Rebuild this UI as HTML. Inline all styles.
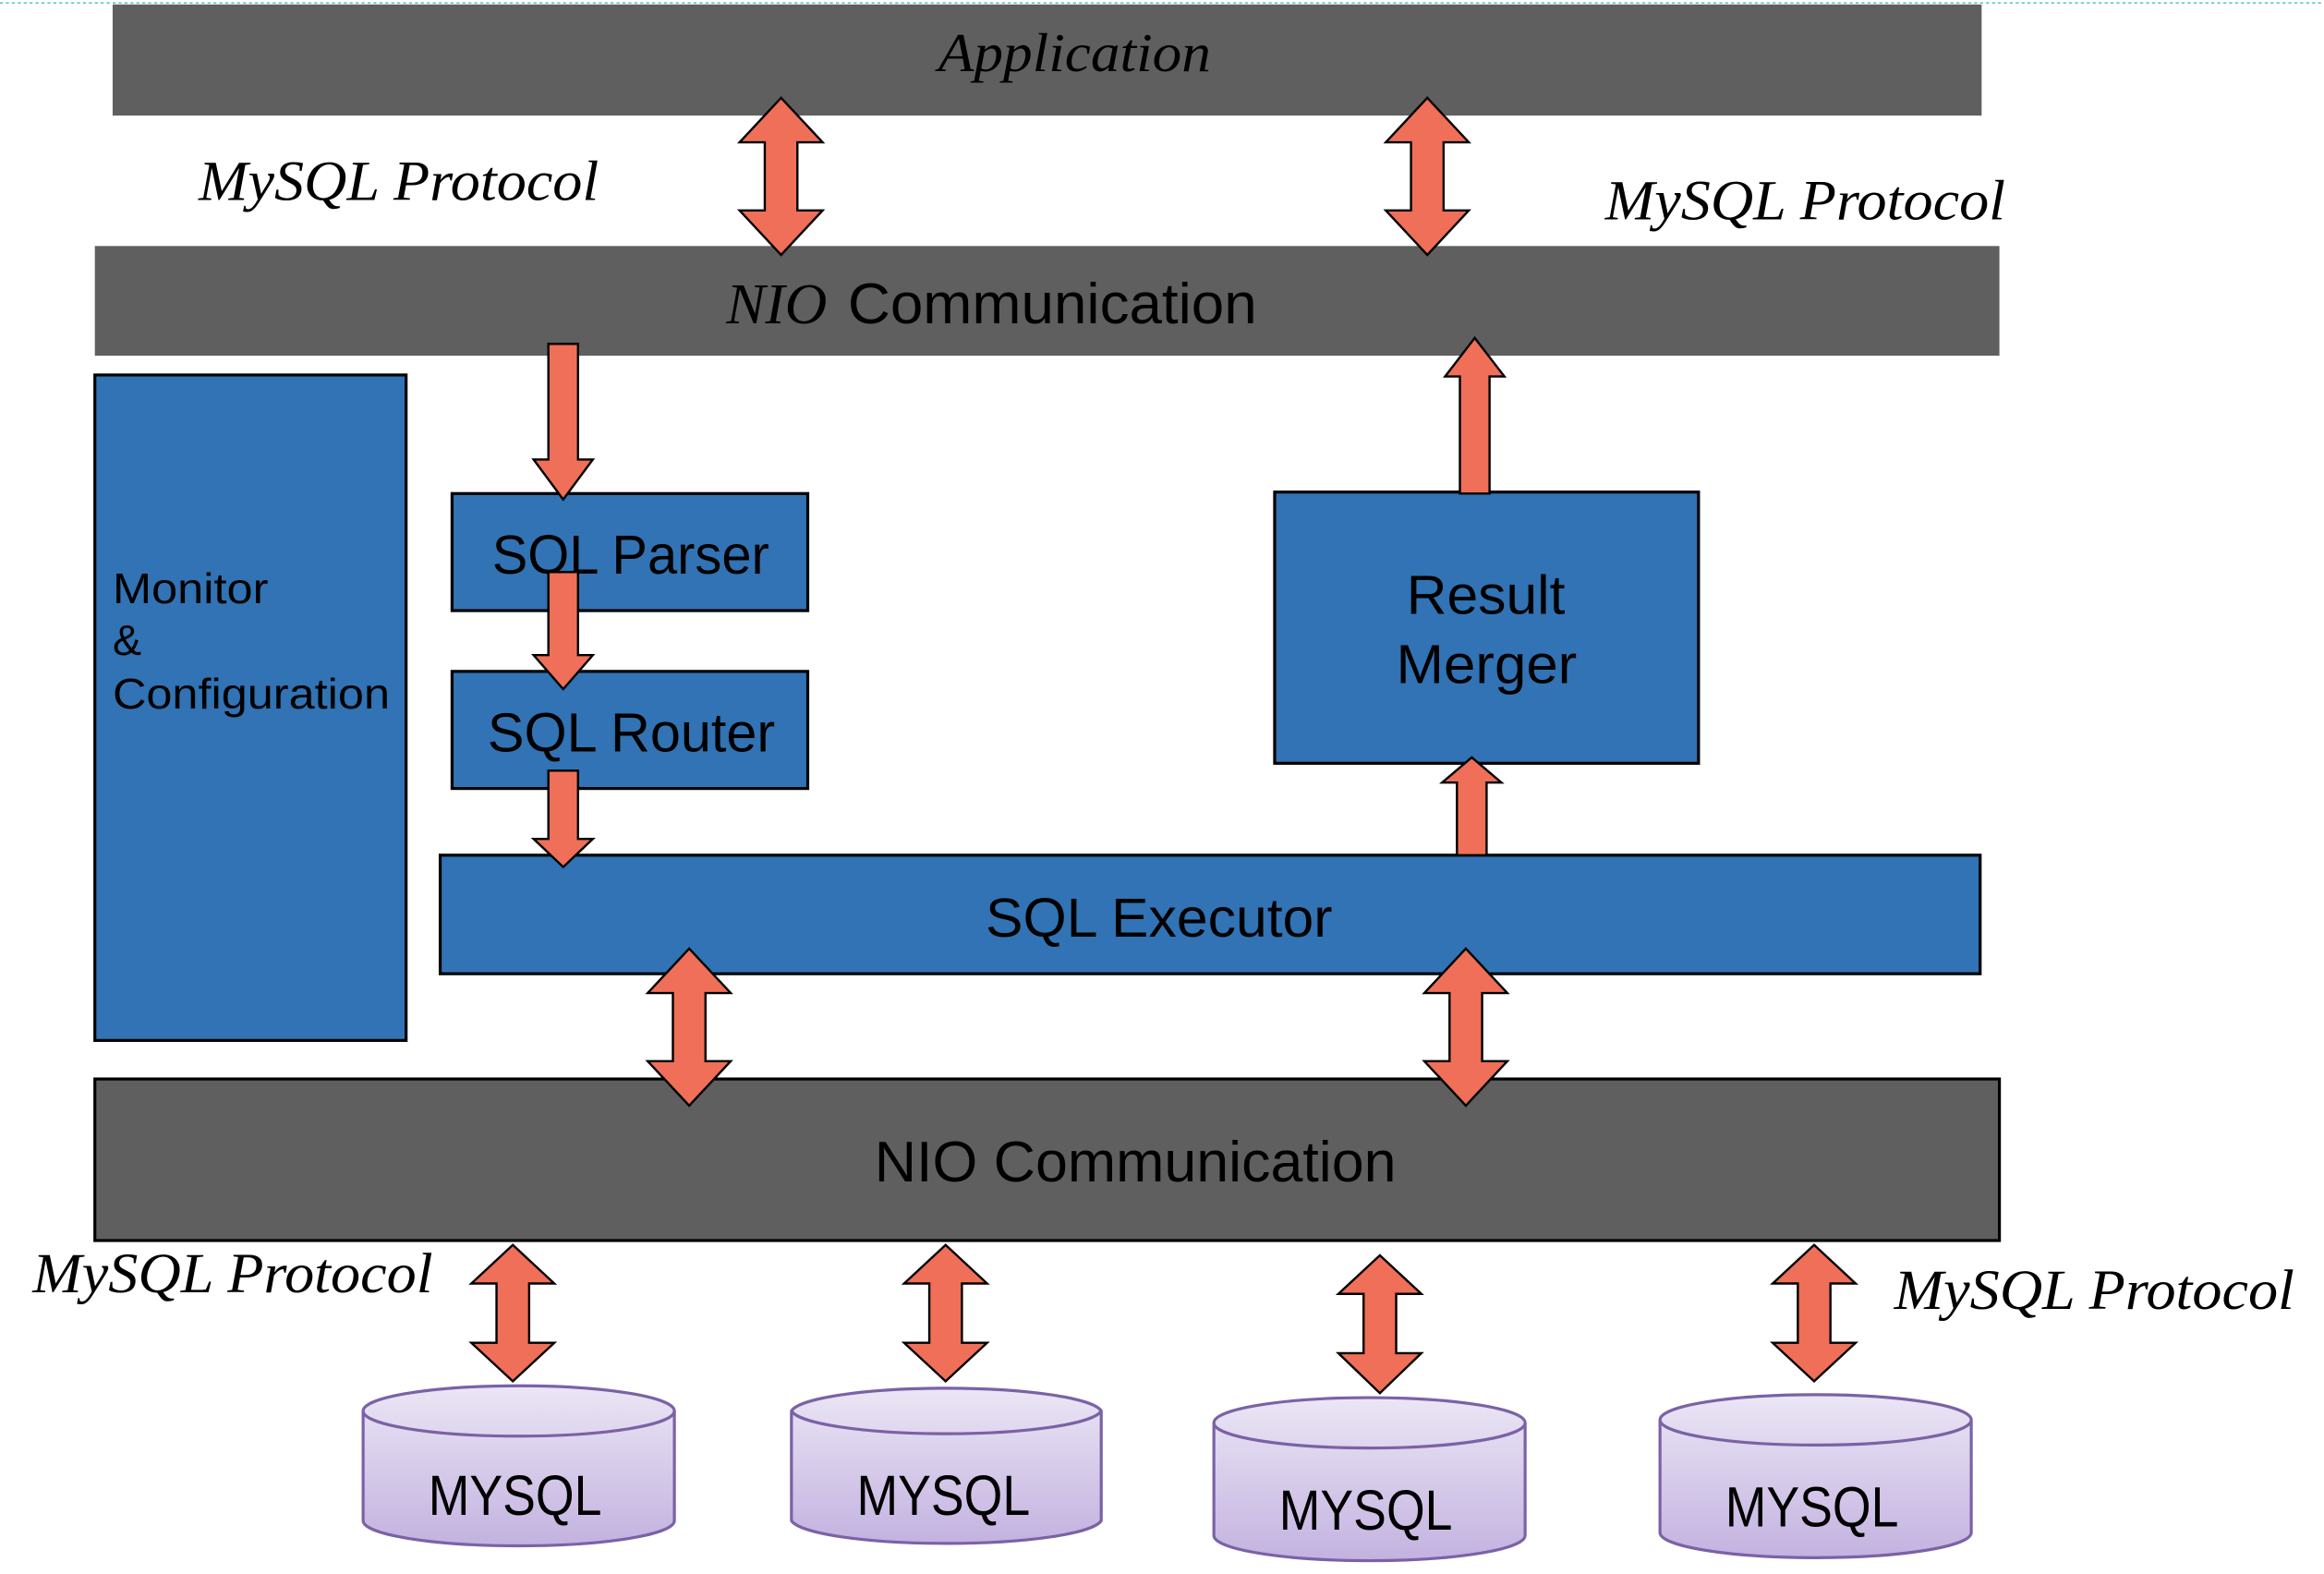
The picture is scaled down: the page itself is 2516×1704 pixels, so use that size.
<!DOCTYPE html>
<html><head><meta charset="utf-8"><style>
html,body{margin:0;padding:0;background:#fff;}
svg{display:block;}
.ser{font-family:"Liberation Serif",serif;font-style:italic;}
.san{font-family:"Liberation Sans",sans-serif;}
</style></head><body>
<svg width="2516" height="1704" viewBox="0 0 1568 1062" preserveAspectRatio="none" xmlns="http://www.w3.org/2000/svg">
<defs>
<linearGradient id="cy" x1="0" y1="0" x2="0" y2="1">
<stop offset="0" stop-color="#ebe6f5"/><stop offset="1" stop-color="#c3b2e0"/>
</linearGradient>
</defs>
<line x1="0" y1="2" x2="1568" y2="2" stroke="#5cc6c6" stroke-width="1" stroke-dasharray="2,2"/>
<rect x="76" y="3" width="1261" height="75" fill="#5f5f5f"/>
<text x="633" y="48" class="ser" font-size="37" textLength="184" lengthAdjust="spacingAndGlyphs">Application</text>
<text x="134" y="135" class="ser" font-size="38" textLength="270" lengthAdjust="spacingAndGlyphs">MySQL Protocol</text>
<text x="1083" y="148" class="ser" font-size="38" textLength="270" lengthAdjust="spacingAndGlyphs">MySQL Protocol</text>
<rect x="64" y="166" width="1285" height="74" fill="#5f5f5f"/>
<text x="490" y="218" class="ser" font-size="39" textLength="68" lengthAdjust="spacingAndGlyphs">NIO</text>
<text x="572" y="218" class="san" font-size="39" textLength="276" lengthAdjust="spacingAndGlyphs">Communication</text>
<g fill="#3173b4" stroke="#000" stroke-width="2">
<rect x="64" y="253" width="210" height="449"/>
<rect x="305" y="333" width="240" height="79"/>
<rect x="305" y="453" width="240" height="79"/>
<rect x="860" y="332" width="286" height="183"/>
<rect x="297" y="577" width="1039" height="80"/>
</g>
<g class="san" font-size="29">
<text x="76" y="407" textLength="105" lengthAdjust="spacingAndGlyphs">Monitor</text><text x="76" y="442">&amp;</text><text x="76" y="478" textLength="187" lengthAdjust="spacingAndGlyphs">Configuration</text>
</g>
<g class="san" font-size="37">
<text x="332" y="387" textLength="187" lengthAdjust="spacingAndGlyphs">SQL Parser</text>
<text x="329" y="507" textLength="194" lengthAdjust="spacingAndGlyphs">SQL Router</text>
<text x="949" y="414" textLength="107" lengthAdjust="spacingAndGlyphs">Result</text>
<text x="942" y="461" textLength="122" lengthAdjust="spacingAndGlyphs">Merger</text>
<text x="665" y="632" textLength="234" lengthAdjust="spacingAndGlyphs">SQL Executor</text>
</g>
<rect x="64" y="728" width="1285" height="109" fill="#5f5f5f" stroke="#000" stroke-width="2"/>
<text x="590" y="797" class="san" font-size="39" textLength="352" lengthAdjust="spacingAndGlyphs">NIO Communication</text>
<text x="22" y="872" class="ser" font-size="38" textLength="270" lengthAdjust="spacingAndGlyphs">MySQL Protocol</text>
<text x="1278" y="883" class="ser" font-size="38" textLength="270" lengthAdjust="spacingAndGlyphs">MySQL Protocol</text>
<g fill="#ef6f58" stroke="#000" stroke-width="1.5">
<polygon points="527,66 555,96 538,96 538,142 555,142 527,172 499,142 516,142 516,96 499,96"/>
<polygon points="963,66 991,96 974,96 974,142 991,142 963,172 935,142 952,142 952,96 935,96"/>
<polygon points="465,640 493,670 476,670 476,716 493,716 465,746 437,716 454,716 454,670 437,670"/>
<polygon points="989,640 1017,670 1000,670 1000,716 1017,716 989,746 961,716 978,716 978,670 961,670"/>
<polygon points="346,840 374,866 357,866 357,906 374,906 346,932 318,906 335,906 335,866 318,866"/>
<polygon points="638,840 666,866 649,866 649,906 666,906 638,932 610,906 627,906 627,866 610,866"/>
<polygon points="931,847 959,873 942,873 942,913 959,913 931,940 903,913 920,913 920,873 903,873"/>
<polygon points="1224,840 1252,866 1235,866 1235,906 1252,906 1224,932 1196,906 1213,906 1213,866 1196,866"/>
<polygon points="370,232 390,232 390,310 400,310 380,337 360,310 370,310"/>
<polygon points="370,386 390,386 390,442 400,442 380,465 360,442 370,442"/>
<polygon points="370,520 390,520 390,566 400,566 380,585 360,566 370,566"/>
<polygon points="995,228 1015,254 1005,254 1005,333 985,333 985,254 975,254"/>
<polygon points="993,511 1013,528 1003,528 1003,577 983,577 983,528 973,528"/>
</g>
<g stroke="#7a62a6" stroke-width="2" fill="url(#cy)">
<path d="M245,952 A105,17 0 0 1 455,952 L455,1026 A105,17 0 0 1 245,1026 Z"/>
<path d="M534,952 A105,17 0 0 1 743,952 L743,1026 A105,17 0 0 1 534,1026 Z"/>
<path d="M819,960 A105,17 0 0 1 1029,960 L1029,1036 A105,17 0 0 1 819,1036 Z"/>
<path d="M1120,958 A105,17 0 0 1 1330,958 L1330,1034 A105,17 0 0 1 1120,1034 Z"/>
<path d="M245,952 A105,17 0 0 0 455,952" fill="none"/>
<path d="M534,952 A105,17 0 0 0 743,952" fill="none"/>
<path d="M819,960 A105,17 0 0 0 1029,960" fill="none"/>
<path d="M1120,958 A105,17 0 0 0 1330,958" fill="none"/>
</g>
<g class="san" font-size="38">
<text x="289" y="1022" textLength="117" lengthAdjust="spacingAndGlyphs">MYSQL</text>
<text x="578" y="1022" textLength="117" lengthAdjust="spacingAndGlyphs">MYSQL</text>
<text x="863" y="1032" textLength="117" lengthAdjust="spacingAndGlyphs">MYSQL</text>
<text x="1164" y="1030" textLength="117" lengthAdjust="spacingAndGlyphs">MYSQL</text>
</g>
</svg>
</body></html>
